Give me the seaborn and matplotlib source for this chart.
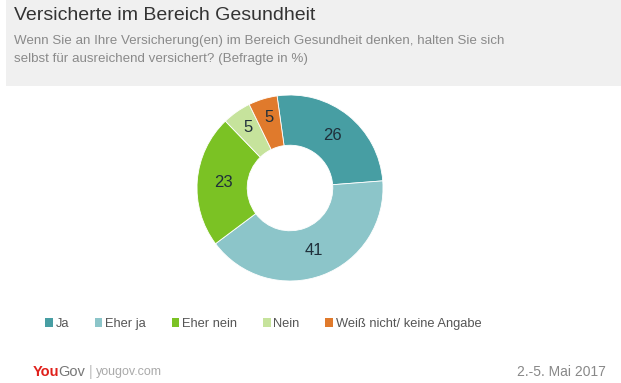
import numpy as np
import matplotlib.pyplot as plt
import seaborn as sns
from matplotlib.patches import Rectangle

# Daten
categories = ["Ja", "Eher ja", "Eher nein", "Nein", "Weiß nicht/ keine Angabe"]
values = [26, 41, 23, 5, 5]
colors = ["#479ea3", "#8cc5c9", "#7bc224", "#c6e39c", "#e07a2c"]

title = "Versicherte im Bereich Gesundheit"
subtitle = ("Wenn Sie an Ihre Versicherung(en) im Bereich Gesundheit denken, halten Sie sich\n"
            "selbst für ausreichend versichert? (Befragte in %)")
date_text = "2.-5. Mai 2017"

sns.set_style("white")
plt.rcParams['font.family'] = ['Liberation Sans', 'DejaVu Sans']

fig = plt.figure(figsize=(6.21, 3.83), dpi=100)
W, H = 621, 383

# grauer Kopfbereich
fig.patches.append(Rectangle((6 / W, 1 - 86 / H), 1, 86 / H, transform=fig.transFigure,
                             facecolor="#f0f0f0", edgecolor="none", zorder=0))
fig.text(14 / W, 1 - 16 / H, title, fontsize=14, color="#333333", va="center")
fig.text(14 / W, 1 - 50 / H, subtitle, fontsize=9.6, color="#8a8a8a", va="center",
         linespacing=1.75)

# Donut
cx, cy, r = 290, 188, 93
ax = fig.add_axes([(cx - r) / W, 1 - (cy + r) / H, 2 * r / W, 2 * r / H])
wedges, _ = ax.pie(values, colors=colors, startangle=98, counterclock=False,
                   wedgeprops=dict(width=0.54, edgecolor="white", linewidth=0.6))
ax.set_xlim(-1, 1)
ax.set_ylim(-1, 1)
ax.set_aspect("equal")
angle = 98
for v, w in zip(values, wedges):
    mid = np.deg2rad(angle - v * 3.6 / 2)
    rr = 0.72 if v > 5 else 0.79
    ax.text(rr * np.cos(mid), rr * np.sin(mid), str(v), ha="center", va="center",
            fontsize=12, color="#1f2f3a")
    angle -= v * 3.6

# Legende
handles = [Rectangle((0, 0), 1, 1, facecolor=c, edgecolor="none") for c in colors]
fig.legend(handles, categories, loc="center left", bbox_to_anchor=(45 / W, 1 - 324 / H),
           ncol=5, frameon=False, fontsize=9.3, handlelength=0.6, handleheight=0.6,
           handletextpad=0.2, columnspacing=2.0, labelcolor="#555555",
           borderpad=0, borderaxespad=0)

# Fußzeile
fig.canvas.draw()
rend = fig.canvas.get_renderer()
y_f = 1 - 372 / H
x = 33 / W
parts = [("You", dict(fontsize=10.5, color="#e0201b", fontweight="bold"), -1),
         ("Gov", dict(fontsize=10.5, color="#777777"), 3),
         ("|", dict(fontsize=10.5, color="#bbbbbb"), 4),
         ("yougov.com", dict(fontsize=9, color="#aaaaaa"), 0)]
for txt, kw, gap in parts:
    t = fig.text(x, y_f, txt, va="center", **kw)
    bb = t.get_window_extent(rend)
    x = (bb.x1 + gap) / W
fig.text(606 / W, y_f, date_text, fontsize=10, color="#888888", va="center",
         ha="right")

fig.savefig("out.png", dpi=100)
